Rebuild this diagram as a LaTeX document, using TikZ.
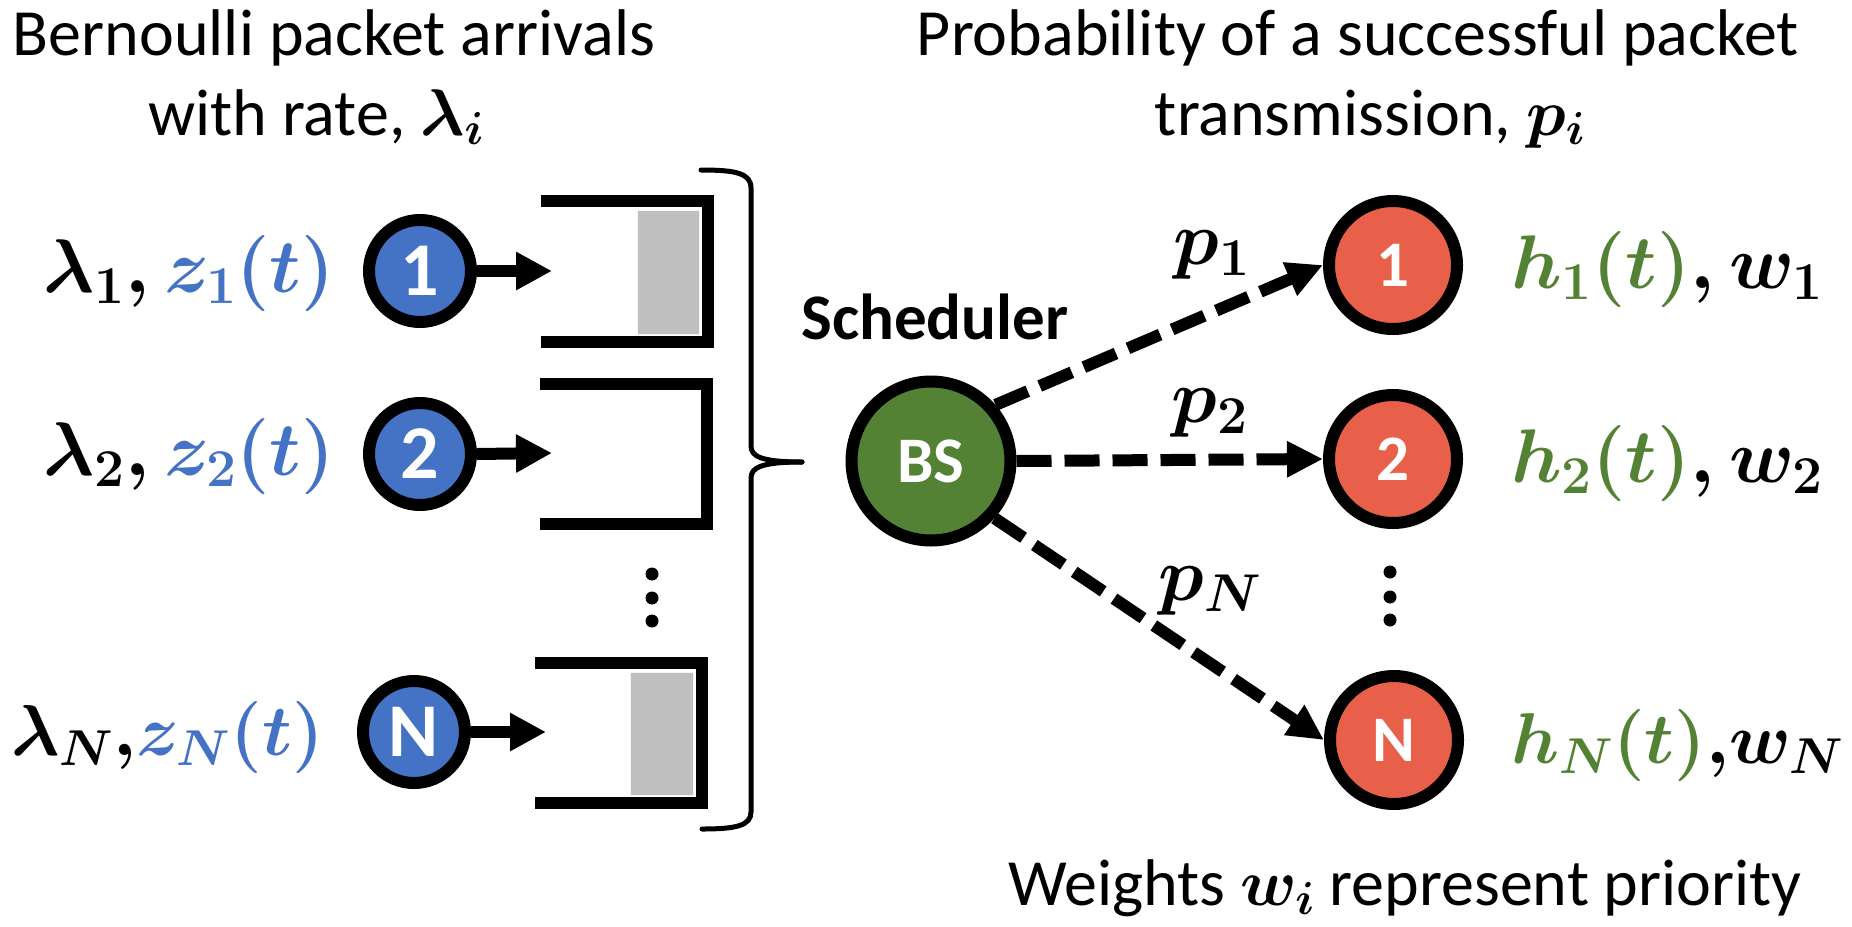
\RequirePackage{fix-cm}
\documentclass[tikz,border=0pt]{standalone}
\usepackage{amsmath}
\usepackage[no-math]{fontspec}
\setmainfont{Carlito}
\usetikzlibrary{arrows.meta}
\definecolor{cblue}{HTML}{4472C4}
\definecolor{cgreen}{HTML}{548235}
\definecolor{cred}{HTML}{E9604A}
\definecolor{cgray}{HTML}{BFBFBF}
\begin{document}
\begin{tikzpicture}[x=1pt,y=-1pt,
  ucirc/.style={circle, draw=black, line width=12pt, fill=cblue, minimum size=102pt, inner sep=0pt, outer sep=6pt, text=white, font=\bfseries\fontsize{76}{76}\selectfont},
  rcirc/.style={circle, draw=black, line width=12pt, fill=cred, minimum size=128pt, inner sep=0pt, outer sep=6pt, text=white, font=\bfseries\fontsize{65}{65}\selectfont},
  bscirc/.style={circle, draw=black, line width=12pt, fill=cgreen, minimum size=159pt, inner sep=0pt, outer sep=6pt, text=white, font=\bfseries\fontsize{65}{65}\selectfont},
  lbl/.style={inner sep=0pt, font=\boldmath\fontsize{76}{90}\selectfont},
  lbln/.style={inner sep=0pt, font=\boldmath\fontsize{72}{86}\selectfont},
  ttl/.style={inner sep=0pt, font=\boldmath\fontsize{66}{80}\selectfont},
  qarrow/.style={line width=12pt, -{Triangle[length=36pt,width=36pt]}},
  darrow/.style={line width=12pt, dash pattern=on 35pt off 13pt, -{Triangle[length=36pt,width=34pt]}},
  qline/.style={line width=12pt, line join=miter},
  bufbox/.style={fill=cgray, draw=white!85!cgray, line width=1pt},
  brace/.style={line width=5pt, line cap=round},
  vdot/.style={fill=black}
]
\useasboundingbox (0,0) rectangle (1852,926);

% titles
\node[ttl, anchor=base] (t1) at (334,55) {Bernoulli packet arrivals};
\node[ttl, anchor=base] (t2) at (316,135) {with rate, $\lambda_i$};
\node[ttl, anchor=base] (t3) at (1358,55) {Probability of a successful packet};
\node[ttl, anchor=base] (t4) at (1370,135) {transmission, $p_i$};
\node[ttl, anchor=base] (wt) at (1405,905) {Weights $w_i$ represent priority};

% users
\node[ucirc] (u1) at (420,271) {1};
\node[ucirc] (u2) at (420,454) {2};
\node[ucirc] (uN) at (414,732) {N};

\node[lbl, anchor=base east] (l1) at (335,292) {$\lambda_{1},{\color{cblue}z_{1}(t)}$};
\node[lbl, anchor=base east] (l2) at (335,475) {$\lambda_{2},{\color{cblue}z_{2}(t)}$};
\node[lbln, anchor=base east] (lN) at (324,755) {$\lambda_{N},\mskip-3mu{\color{cblue}z_{N}(t)}$};

% queues
\coordinate (q1in) at (552,271);
\coordinate (q2in) at (552,453);
\coordinate (qNin) at (546,732);
\fill[bufbox] (637,210) rectangle (699,334);
\draw[qline] (541,201) -- (708,201) -- (708,341.5) -- (541,341.5);
\draw[qline] (540,384) -- (707,384) -- (707,524) -- (540,524);
\fill[bufbox] (630,672) rectangle (693,795);
\draw[qline] (535,662.5) -- (701.5,662.5) -- (701.5,802.5) -- (535,802.5);

\draw[qarrow] (u1.east) -- (q1in);
\draw[qarrow] (u2.east) -- (q2in);
\draw[qarrow] (uN.east) -- (qNin);

\fill[vdot] (652,574) circle (6.5);
\fill[vdot] (652,598) circle (6.5);
\fill[vdot] (652,621) circle (6.5);

% brace
\coordinate (btip) at (802,462);
\draw[brace] (701,170) .. controls (735,170) and (751,173) .. (751,188) -- (751,446)
  .. controls (751,456) and (760,462) .. (btip);
\draw[brace] (btip) .. controls (760,462) and (751,468) .. (751,478) -- (751,812)
  .. controls (751,826) and (735,829) .. (702,829);

% scheduler
\node[bscirc] (bs) at (931,461) {BS};
\node[inner sep=0pt, anchor=base, font=\bfseries\fontsize{65}{65}\selectfont] (sched) at (935,339) {Scheduler};

% receivers
\node[rcirc] (r1) at (1393,265) {1};
\node[rcirc] (r2) at (1393,459) {2};
\node[rcirc] (rN) at (1394,740) {N};

\fill[vdot] (1390,572) circle (6.5);
\fill[vdot] (1390,597) circle (6.5);
\fill[vdot] (1390,620) circle (6.5);

\draw[darrow] (bs.41) -- (r1.west);
\draw[darrow] (bs.east) -- (r2.west);
\draw[darrow] (bs.-42) -- (rN.west);

\node[lbl] (p1) at (1212,255) {$p_{1}$};
\node[lbl] (p2) at (1210,413) {$p_{2}$};
\node[lbl] (pN) at (1210,591) {$p_{N}$};

\node[lbl, anchor=base west] (h1) at (1511,288) {${\color{cgreen}h_{1}(t)},w_{1}$};
\node[lbl, anchor=base west] (h2) at (1511,482) {${\color{cgreen}h_{2}(t)},w_{2}$};
\node[lbln, anchor=base west] (hN) at (1511,763) {${\color{cgreen}h_{N}(t)},\mskip-3mu w_{N}$};
\end{tikzpicture}
\end{document}
